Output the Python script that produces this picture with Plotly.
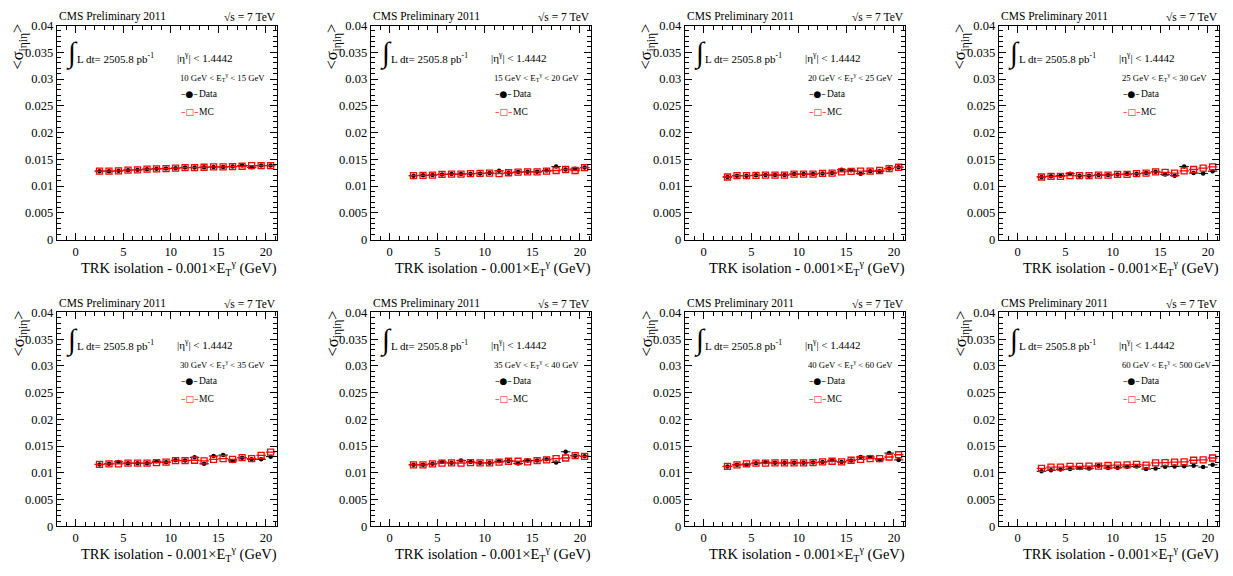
import plotly.graph_objects as go

W, H = 1233, 576
FONT = "Liberation Serif"

# bin centres of TRK isolation (GeV)
xc = [2.5, 3.5, 4.5, 5.5, 6.5, 7.5, 8.5, 9.5, 10.5, 11.5, 12.5, 13.5, 14.5, 15.5, 16.5, 17.5, 18.5, 19.5, 20.5]
xhw = [0.5] * 19

et_bins = ["10 GeV &lt; E<sub>T</sub><sup>γ</sup> &lt; 15 GeV",
           "15 GeV &lt; E<sub>T</sub><sup>γ</sup> &lt; 20 GeV",
           "20 GeV &lt; E<sub>T</sub><sup>γ</sup> &lt; 25 GeV",
           "25 GeV &lt; E<sub>T</sub><sup>γ</sup> &lt; 30 GeV",
           "30 GeV &lt; E<sub>T</sub><sup>γ</sup> &lt; 35 GeV",
           "35 GeV &lt; E<sub>T</sub><sup>γ</sup> &lt; 40 GeV",
           "40 GeV &lt; E<sub>T</sub><sup>γ</sup> &lt; 60 GeV",
           "60 GeV &lt; E<sub>T</sub><sup>γ</sup> &lt; 500 GeV"]

data1 = [0.01278, 0.01278, 0.01284, 0.01297, 0.01303, 0.01315, 0.01321, 0.01327, 0.01333, 0.01345, 0.01345, 0.01351, 0.01357, 0.01357, 0.01363, 0.01385, 0.01350, 0.01382, 0.01382]
mc1 = [0.01278, 0.01278, 0.01284, 0.01297, 0.01303, 0.01315, 0.01321, 0.01327, 0.01333, 0.01345, 0.01345, 0.01351, 0.01357, 0.01357, 0.01363, 0.01370, 0.01382, 0.01382, 0.01382]
derr1 = [0.00004, 0.00004, 0.00004, 0.00004, 0.00004, 0.00005, 0.00005, 0.00005, 0.00005, 0.00006, 0.00006, 0.00007, 0.00007, 0.00008, 0.00008, 0.00012, 0.00012, 0.0001, 0.0001]

data2 = [0.01193, 0.01199, 0.01205, 0.01217, 0.01223, 0.01223, 0.01230, 0.01236, 0.01242, 0.01284, 0.01248, 0.01260, 0.01266, 0.01266, 0.01290, 0.01363, 0.01309, 0.01321, 0.01345]
mc2 = [0.01193, 0.01199, 0.01205, 0.01217, 0.01223, 0.01223, 0.01230, 0.01236, 0.01242, 0.01230, 0.01248, 0.01260, 0.01266, 0.01266, 0.01278, 0.01290, 0.01309, 0.01290, 0.01345]
derr2 = [0.00004, 0.00004, 0.00004, 0.00005, 0.00005, 0.00005, 0.00006, 0.00006, 0.00007, 0.00008, 0.00008, 0.00009, 0.0001, 0.0001, 0.00012, 0.00014, 0.00012, 0.00012, 0.00012]

data3 = [0.01169, 0.01193, 0.01193, 0.01199, 0.01205, 0.01205, 0.01205, 0.01223, 0.01223, 0.01223, 0.01236, 0.01242, 0.01303, 0.01297, 0.01230, 0.01278, 0.01278, 0.01327, 0.01351]
mc3 = [0.01169, 0.01193, 0.01193, 0.01199, 0.01205, 0.01205, 0.01205, 0.01223, 0.01223, 0.01223, 0.01236, 0.01242, 0.01266, 0.01272, 0.01278, 0.01278, 0.01290, 0.01327, 0.01351]
derr3 = [0.00005, 0.00005, 0.00005, 0.00005, 0.00006, 0.00006, 0.00007, 0.00007, 0.00008, 0.00008, 0.00009, 0.0001, 0.00012, 0.00012, 0.00014, 0.00014, 0.00015, 0.00015, 0.00015]

data4 = [0.01169, 0.01181, 0.01193, 0.01230, 0.01193, 0.01193, 0.01205, 0.01205, 0.01217, 0.01223, 0.01230, 0.01242, 0.01266, 0.01217, 0.01193, 0.01363, 0.01242, 0.01236, 0.01278]
mc4 = [0.01169, 0.01181, 0.01181, 0.01193, 0.01193, 0.01193, 0.01205, 0.01205, 0.01217, 0.01217, 0.01230, 0.01242, 0.01266, 0.01254, 0.01242, 0.01284, 0.01309, 0.01333, 0.01357]
derr4 = [0.00006, 0.00006, 0.00007, 0.00008, 0.00008, 0.00009, 0.00009, 0.0001, 0.0001, 0.00011, 0.00012, 0.00013, 0.00014, 0.00015, 0.00016, 0.00022, 0.0002, 0.0002, 0.0002]

data5 = [0.01157, 0.01169, 0.01205, 0.01181, 0.01181, 0.01181, 0.01217, 0.01199, 0.01236, 0.01230, 0.01290, 0.01169, 0.01315, 0.01333, 0.01223, 0.01284, 0.01254, 0.01254, 0.01303]
mc5 = [0.01157, 0.01169, 0.01169, 0.01181, 0.01181, 0.01181, 0.01193, 0.01199, 0.01230, 0.01230, 0.01236, 0.01223, 0.01254, 0.01266, 0.01254, 0.01284, 0.01266, 0.01327, 0.01388]
derr5 = [0.00006, 0.00007, 0.00008, 0.00008, 0.00009, 0.0001, 0.0001, 0.00011, 0.00012, 0.00013, 0.00015, 0.00016, 0.00018, 0.0002, 0.0002, 0.00022, 0.00024, 0.00025, 0.00026]

data6 = [0.01150, 0.01150, 0.01169, 0.01205, 0.01187, 0.01230, 0.01205, 0.01187, 0.01187, 0.01217, 0.01223, 0.01175, 0.01230, 0.01230, 0.01254, 0.01193, 0.01394, 0.01321, 0.01309]
mc6 = [0.01150, 0.01150, 0.01169, 0.01181, 0.01187, 0.01181, 0.01193, 0.01187, 0.01187, 0.01199, 0.01217, 0.01217, 0.01205, 0.01230, 0.01242, 0.01266, 0.01278, 0.01321, 0.01309]
derr6 = [0.00006, 0.00007, 0.00008, 0.00009, 0.0001, 0.0001, 0.00011, 0.00012, 0.00013, 0.00014, 0.00015, 0.00016, 0.00018, 0.0002, 0.00022, 0.00024, 0.00026, 0.00026, 0.00028]

data7 = [0.01120, 0.01150, 0.01150, 0.01181, 0.01199, 0.01187, 0.01187, 0.01187, 0.01187, 0.01193, 0.01205, 0.01236, 0.01205, 0.01230, 0.01297, 0.01297, 0.01242, 0.01370, 0.01242]
mc7 = [0.01120, 0.01150, 0.01169, 0.01181, 0.01181, 0.01187, 0.01187, 0.01187, 0.01187, 0.01193, 0.01205, 0.01217, 0.01205, 0.01236, 0.01254, 0.01266, 0.01266, 0.01297, 0.01339]
derr7 = [0.00005, 0.00006, 0.00006, 0.00007, 0.00007, 0.00008, 0.00008, 0.00009, 0.0001, 0.0001, 0.00011, 0.00012, 0.00013, 0.00014, 0.00015, 0.00016, 0.00018, 0.00024, 0.00022]

data8 = [0.01029, 0.01047, 0.01065, 0.01071, 0.01090, 0.01083, 0.01132, 0.01090, 0.01096, 0.01114, 0.01120, 0.01071, 0.01083, 0.01114, 0.01120, 0.01126, 0.01132, 0.01108, 0.01150]
mc8 = [0.01083, 0.01108, 0.01108, 0.01120, 0.01120, 0.01126, 0.01126, 0.01138, 0.01144, 0.01150, 0.01157, 0.01144, 0.01187, 0.01193, 0.01199, 0.01205, 0.01236, 0.01242, 0.01278]
derr8 = [0.00003, 0.00003, 0.00003, 0.00003, 0.00004, 0.00004, 0.00004, 0.00004, 0.00005, 0.00005, 0.00005, 0.00006, 0.00006, 0.00006, 0.00007, 0.00007, 0.00008, 0.00008, 0.00009]

datas = [data1, data2, data3, data4, data5, data6, data7, data8]
mcs = [mc1, mc2, mc3, mc4, mc5, mc6, mc7, mc8]
derrs = [derr1, derr2, derr3, derr4, derr5, derr6, derr7, derr8]

fig = go.Figure()
annotations = []
layout = {}


def px_x(p):
    return p / W


def px_y(p):
    return 1 - p / H


def ann(text, x, y, size, xanchor="left", yanchor="middle", color="black", family=FONT, **kw):
    annotations.append(dict(text=text, x=px_x(x), y=px_y(y), xref="paper", yref="paper",
                            xanchor=xanchor, yanchor=yanchor, showarrow=False, borderpad=0,
                            font=dict(family=family, size=size, color=color), **kw))


for i in range(8):
    r, c = divmod(i, 4)
    dx, dy = 314 * c, 294 * r
    n = "" if i == 0 else str(i + 1)
    xa, ya = "x" + n, "y" + n
    fig.add_trace(go.Scatter(
        x=xc, y=datas[i], mode="markers", xaxis=xa, yaxis=ya, showlegend=False, name="Data",
        marker=dict(symbol="circle", size=4.5, color="black"),
        error_x=dict(type="data", array=xhw, color="black", thickness=1, width=0),
        error_y=dict(type="data", array=derrs[i], color="black", thickness=1, width=0)))
    fig.add_trace(go.Scatter(
        x=xc, y=mcs[i], mode="markers", xaxis=xa, yaxis=ya, showlegend=False, name="MC",
        marker=dict(symbol="square-open", size=6, color="#ff0000", line=dict(width=1.3)),
        error_x=dict(type="data", array=xhw, color="#ff0000", thickness=1.3, width=0)))

    x0 = 56.7 + dx
    x1 = x0 + 220.6
    y0 = 19 + dy
    y1 = 238.3 + dy
    axcommon = dict(showline=True, linecolor="black", linewidth=1, mirror="ticks",
                    ticks="inside", tickcolor="black", showgrid=False, zeroline=False,
                    tickfont=dict(family=FONT, size=12.5, color="black"))
    layout["xaxis" + n] = dict(domain=[px_x(x0), px_x(x1)], range=[-2, 21.2], anchor=ya,
                               dtick=5, tick0=0, ticklen=7,
                               minor=dict(ticks="inside", dtick=1, ticklen=4, tickcolor="black"),
                               **axcommon)
    layout["yaxis" + n] = dict(domain=[px_y(y1), px_y(y0)], range=[0, 0.04], anchor=xa,
                               dtick=0.005, tick0=0, ticklen=7,
                               minor=dict(ticks="inside", dtick=0.001, ticklen=4, tickcolor="black"),
                               **axcommon)

    ann("CMS Preliminary 2011", 58 + dx, 10 + dy, 11.5)
    ann("√s = 7 TeV", 277 + dx, 10 + dy, 11.5, xanchor="right")
    ann("∫", 65 + dx, 47 + dy, 29)
    ann("L dt= 2505.8 pb<sup>-1</sup>", 76 + dx, 52 + dy, 11)
    ann("|η<sup>γ</sup>| &lt; 1.4442", 176 + dx, 51 + dy, 11)
    ann(et_bins[i], 179 + dx, 72 + dy, 8.7)
    # legend
    ann("–●–", 189.5 + dx, 89 + dy, 9, xanchor="center", family="DejaVu Sans")
    ann("Data", 198 + dx, 89 + dy, 9.5)
    ann("–□–", 189.5 + dx, 107.5 + dy, 9, xanchor="center", color="#ff0000", family="DejaVu Sans")
    ann("MC", 198 + dx, 107.5 + dy, 9.5)
    ann("&lt;σ<sub>iηiη</sub>&gt;", 19 + dx, 16 + dy, 16.5, xanchor="center", yanchor="top", textangle=-90)
    ann("TRK isolation - 0.001×E<sub>T</sub><sup>γ</sup> (GeV)", 278 + dx, 267 + dy, 14.5, xanchor="right")

fig.update_layout(width=W, height=H, margin=dict(l=0, r=0, t=0, b=0),
                  paper_bgcolor="white", plot_bgcolor="white", showlegend=False,
                  annotations=annotations, **layout)

post = ("var h=document.documentElement,b=document.body;"
        "h.style.margin='0';h.style.padding='0';h.style.overflow='hidden';"
        "b.style.margin='0';b.style.padding='0';b.style.overflow='hidden';")

fig.write_html("out.html", config={"displayModeBar": False, "staticPlot": True}, post_script=post)
